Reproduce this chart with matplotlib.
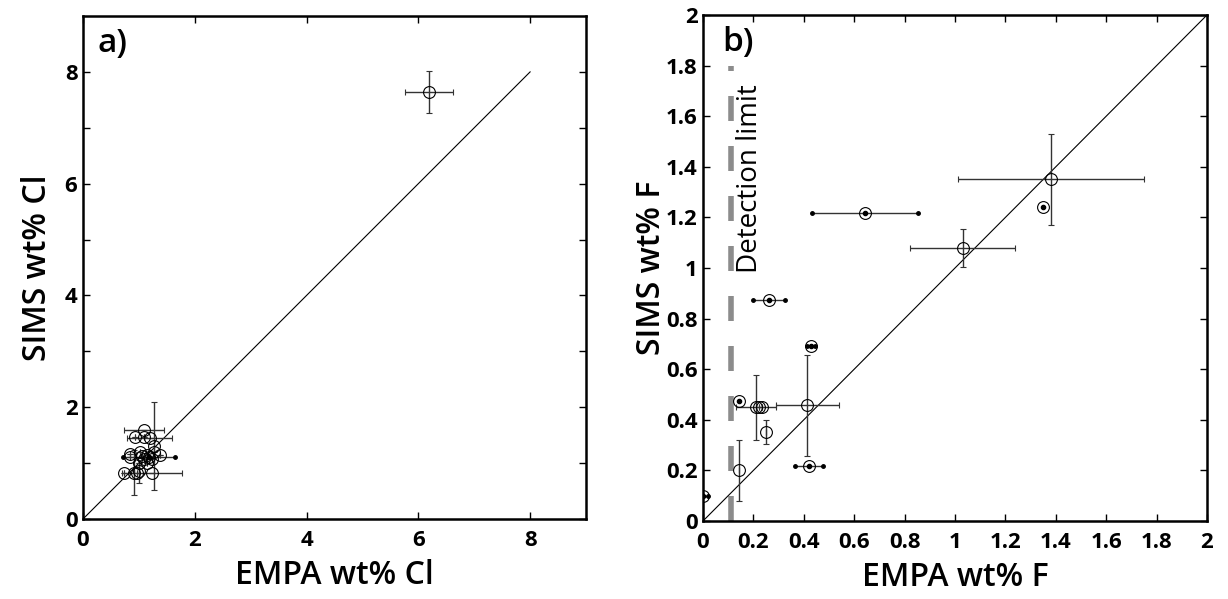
import matplotlib
matplotlib.use("Agg")
import matplotlib.pyplot as plt
import numpy as np

plt.rcParams['font.family'] = ['Open Sans', 'DejaVu Sans']
plt.rcParams['lines.scale_dashes'] = False

# ---- panel a: Cl ----
cl_x = [6.19, 1.086, 1.19, 1.265, 1.236, 0.907, 0.997,
        0.937, 1.086, 0.848, 1.027, 1.265, 1.385, 0.848, 1.086,
        1.236, 0.997, 1.147, 0.728, 0.968, 1.05, 1.15]
cl_y = [7.64, 1.59, 1.45, 1.31, 0.817, 0.83, 0.85,
        1.47, 1.47, 1.17, 1.20, 1.20, 1.14, 1.11, 1.08,
        1.08, 0.995, 0.995, 0.817, 0.817, 1.12, 1.15]
cl_xerr = [0.43, 0.36, 0.41, 0.0, 0.53, 0.0, 0.0,
           0, 0, 0, 0, 0, 0, 0, 0, 0, 0, 0, 0, 0, 0, 0]
cl_yerr = [0.37, 0.0, 0.0, 0.79, 0.0, 0.40, 0.21,
           0, 0, 0, 0, 0, 0, 0, 0, 0, 0, 0, 0, 0, 0, 0]
# dotted-centre points (Cl)
cld_x = [1.185]
cld_y = [1.11]
cld_xerr = [0.47]

# ---- panel b: F ----
f_x = [1.38, 1.03, 0.414, 0.21, 0.222, 0.234, 0.249, 0.142]
f_y = [1.35, 1.08, 0.458, 0.449, 0.449, 0.449, 0.353, 0.20]
f_xerr = [0.37, 0.21, 0.124, 0.078, 0.0, 0.0, 0.0, 0.0]
f_yerr = [0.18, 0.075, 0.20, 0.13, 0.0, 0.0, 0.048, 0.12]
# dotted-centre points (F)
fd_x = [1.35, 0.643, 0.262, 0.429, 0.143, 0.421, 0.0]
fd_y = [1.24, 1.219, 0.874, 0.693, 0.474, 0.219, 0.10]
fd_xerr = [0.0, 0.21, 0.063, 0.015, 0.0, 0.054, 0.02]

det_limit = 0.11

fig = plt.figure(figsize=(12.28, 5.99), dpi=100)
ax1 = fig.add_axes([83 / 1228, 1 - 519 / 599, (586 - 83) / 1228, (519 - 16) / 599])
ax2 = fig.add_axes([703 / 1228, 1 - 521 / 599, (1207 - 703) / 1228, (521 - 15) / 599])


def open_pts(ax, x, y, xe, ye):
    ax.errorbar(x, y, xerr=xe, yerr=ye, fmt='o', mfc='none', mec='k', ms=8.5,
                mew=0.8, ecolor='#333333', elinewidth=1, capsize=2.5, capthick=1,
                zorder=3)


def dot_pts(ax, x, y, xe):
    x = np.array(x)
    y = np.array(y)
    xe = np.array(xe)
    ax.errorbar(x, y, xerr=xe, fmt='o', mfc='none', mec='k', ms=8.5, mew=0.8,
                ecolor='#333333', elinewidth=1, capsize=0, zorder=3)
    ax.plot(x, y, 'o', color='k', ms=3, zorder=4)
    m = xe > 0
    ax.plot(x[m] - xe[m], y[m], 'o', color='k', ms=2.5, zorder=4)
    ax.plot(x[m] + xe[m], y[m], 'o', color='k', ms=2.5, zorder=4)


# panel a
ax1.plot([0, 8], [0, 8], color='k', lw=0.8, zorder=2)
open_pts(ax1, cl_x, cl_y, cl_xerr, cl_yerr)
dot_pts(ax1, cld_x, cld_y, cld_xerr)
ax1.set_xlim(0, 9)
ax1.set_ylim(0, 9)
ax1.set_xticks([0, 2, 4, 6, 8])
ax1.set_yticks(range(0, 9))
ax1.set_yticklabels([str(v) if v % 2 == 0 else '' for v in range(0, 9)])
ax1.set_xlabel('EMPA wt% Cl', fontsize=23, fontweight='semibold', labelpad=6)
ax1.set_ylabel('SIMS wt% Cl', fontsize=23, fontweight='semibold', labelpad=8)
ax1.text(0.028, 0.978, 'a)', transform=ax1.transAxes, fontsize=24,
         fontweight='semibold', va='top', ha='left')

# panel b
ax2.plot([0, 2], [0, 2], color='k', lw=0.8, zorder=2)
ax2.plot([det_limit, det_limit], [0, 1.8], color='#8c8c8c', lw=4,
         dashes=(18, 18), zorder=1)
ax2.text(det_limit + 0.075, 1.355, 'Detection limit', rotation=90, fontsize=20,
         ha='center', va='center')
open_pts(ax2, f_x, f_y, f_xerr, f_yerr)
dot_pts(ax2, fd_x, fd_y, fd_xerr)
ax2.set_xlim(0, 2)
ax2.set_ylim(0, 2)
ticks_b = np.round(np.arange(0, 2.01, 0.2), 1)
labels_b = ['{:g}'.format(t) for t in ticks_b]
ax2.set_xticks(ticks_b)
ax2.set_xticklabels(labels_b)
ax2.set_yticks(ticks_b)
ax2.set_yticklabels(labels_b)
ax2.set_xlabel('EMPA wt% F', fontsize=23, fontweight='semibold', labelpad=6)
ax2.set_ylabel('SIMS wt% F', fontsize=23, fontweight='semibold', labelpad=-2)
ax2.text(0.038, 0.978, 'b)', transform=ax2.transAxes, fontsize=24,
         fontweight='semibold', va='top', ha='left')

for ax in (ax1, ax2):
    ax.tick_params(direction='in', length=5, width=1, top=True, right=True,
                   labelsize=16)
    ax.tick_params(axis='x', pad=8)
    ax.tick_params(axis='y', pad=4)
    for lab in ax.get_xticklabels() + ax.get_yticklabels():
        lab.set_fontweight('bold')
    for s in ax.spines.values():
        s.set_linewidth(1.8)

fig.savefig('out.png', dpi=100)
